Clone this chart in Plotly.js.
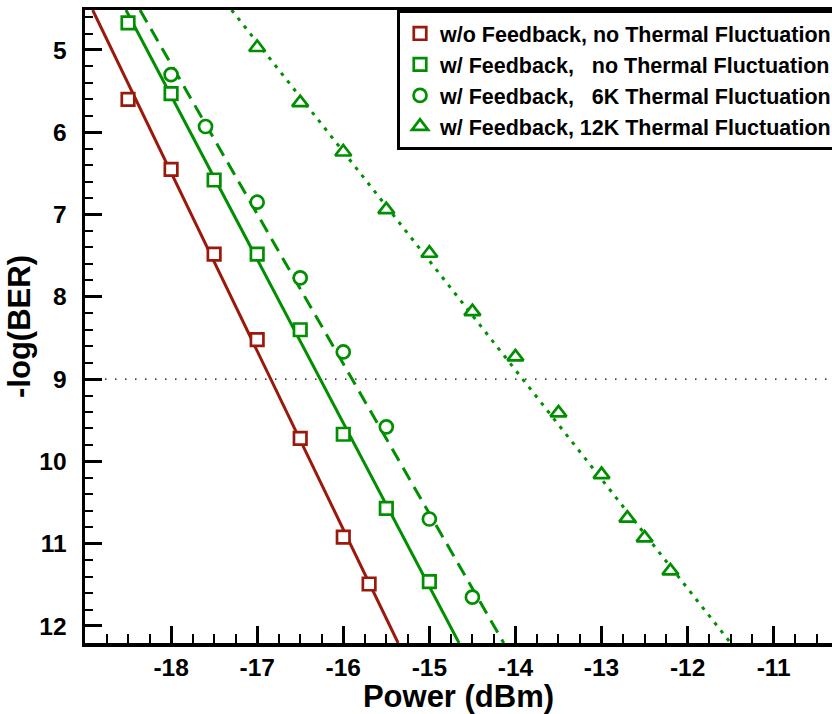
<!DOCTYPE html>
<html><head><meta charset="utf-8">
<script src="https://cdn.plot.ly/plotly-3.0.1.min.js"></script>
<style>html,body{margin:0;padding:0;background:#fff}</style>
</head><body><div id="chart" style="width:832px;height:714px"></div>
<script>
// ---- data ----
const P = '\u00A0\u00A0\u00A0'; // alignment padding used in the reference legend
const seriesNames = [
  'w/o Feedback, no Thermal Fluctuation',
  'w/ Feedback,' + P + 'no Thermal Fluctuation',
  'w/ Feedback,' + P + '6K Thermal Fluctuation',
  'w/ Feedback, 12K Thermal Fluctuation'
];
const redX = [-18.5, -18, -17.5, -17, -16.5, -16, -15.7];
const redY = [5.60, 6.45, 7.48, 8.52, 9.72, 10.92, 11.49];
const sqX = [-18.5, -18, -17.5, -17, -16.5, -16, -15.5, -15];
const sqY = [4.67, 5.53, 6.58, 7.48, 8.40, 9.67, 10.57, 11.46];
const circX = [-18, -17.6, -17, -16.5, -16, -15.5, -15, -14.5];
const circY = [5.30, 5.93, 6.85, 7.77, 8.67, 9.58, 10.70, 11.65];
const triX = [-17, -16.5, -16, -15.5, -15, -14.5, -14, -13.5, -13, -12.7, -12.5, -12.2];
const triY = [4.97, 5.64, 6.24, 6.94, 7.47, 8.18, 8.73, 9.41, 10.16, 10.69, 10.93, 11.33];
// fitted lines (endpoints read where they meet the frame)
const fitY = [4.514, 12.207];
const fitRedX = [-18.911, -15.363];
const fitSqX = [-18.524, -14.655];
const fitCircX = [-18.361, -14.136];
const fitTriX = [-17.297, -11.50];
const threshold = 9;
const xTickVals = [-18, -17, -16, -15, -14, -13, -12, -11];
const yTickVals = [5, 6, 7, 8, 9, 10, 11, 12];

// ---- styles ----
const RED = 'rgb(155,24,12)';
const GREEN = 'rgb(0,143,0)';
const FONT = '"Liberation Sans", Arial, Helvetica, sans-serif';

function fitTrace(x, color, dash) {
  return {x: x, y: fitY, mode: 'lines', showlegend: false, hoverinfo: 'skip',
          line: {color: color, width: 3, dash: dash}, cliponaxis: true};
}
function markTrace(x, y, name, color, symbol, size, group) {
  return {x: x, y: y, mode: 'markers', name: name, legendgroup: group,
          marker: {symbol: symbol, size: size, color: 'white',
                   line: {color: color, width: 2.7}}, cliponaxis: true};
}

const data = [
  fitTrace(fitRedX, RED, 'solid'),
  fitTrace(fitSqX, GREEN, 'solid'),
  fitTrace(fitCircX, GREEN, '14px,8px'),
  fitTrace(fitTriX, GREEN, '3.5px,6.5px'),
  markTrace(redX, redY, seriesNames[0], RED, 'square', 12.5, 'a'),
  markTrace(sqX, sqY, seriesNames[1], GREEN, 'square', 12.5, 'b'),
  markTrace(circX, circY, seriesNames[2], GREEN, 'circle', 13, 'c'),
  markTrace(triX, triY, seriesNames[3], GREEN, 'triangle-up', 14, 'd')
];

const layout = {
  width: 832, height: 714,
  margin: {l: 85, r: 0, t: 10, b: 71, autoexpand: false},
  paper_bgcolor: 'white', plot_bgcolor: 'white',
  font: {family: FONT, color: 'black'},
  showlegend: true,
  legend: {
    x: 0.4177, xanchor: 'left', y: 1, yanchor: 'top',
    bgcolor: 'white', bordercolor: 'black', borderwidth: 3,
    font: {family: FONT, size: 21.5, weight: 'bold', color: 'black'},
    traceorder: 'grouped', tracegroupgap: 0, itemwidth: 30
  },
  xaxis: {
    range: [-19, -10.323], showgrid: false, zeroline: false, automargin: false,
    showline: true, linecolor: 'black', linewidth: 3.5, mirror: true,
    ticks: 'inside', ticklen: 17, tickwidth: 3, tickcolor: 'black',
    tickvals: xTickVals, ticktext: xTickVals.map(String),
    tickfont: {family: FONT, size: 24.5, weight: 'bold'},
    ticklabelstandoff: 0,
    minor: {dtick: 0.25, tick0: -19, ticks: 'inside', ticklen: 9, tickwidth: 2, tickcolor: 'black', showgrid: false},
    title: {text: 'Power (dBm)', font: {family: FONT, size: 31, weight: 'bold'}, standoff: 10},
    fixedrange: true
  },
  yaxis: {
    range: [12.207, 4.514], showgrid: false, zeroline: false, automargin: false,
    showline: true, linecolor: 'black', linewidth: 3.5, mirror: false,
    ticks: 'inside', ticklen: 17, tickwidth: 3, tickcolor: 'black',
    tickvals: yTickVals, ticktext: yTickVals.map(String),
    tickfont: {family: FONT, size: 24.5, weight: 'bold'},
    ticklabelstandoff: 10,
    minor: {dtick: 0.2, tick0: 4, ticks: 'inside', ticklen: 8, tickwidth: 2, tickcolor: 'black', showgrid: false},
    title: {text: '-log(BER)', font: {family: FONT, size: 31, weight: 'bold'}, standoff: 0},
    fixedrange: true
  },
  shapes: [{
    type: 'line', xref: 'paper', x0: 0, x1: 1, yref: 'y', y0: threshold, y1: threshold,
    line: {color: 'black', width: 1.4, dash: '1.5px,8.5px'}, layer: 'below'
  }]
};

Plotly.newPlot('chart', data, layout, {displayModeBar: false, staticPlot: true});
</script>
</body></html>
